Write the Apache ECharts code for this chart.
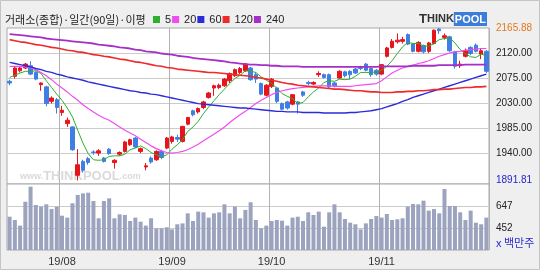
<!DOCTYPE html>
<html><head><meta charset="utf-8">
<script src="https://cdn.jsdelivr.net/npm/echarts@6/dist/echarts.min.js"></script>
<style>html,body{margin:0;padding:0;background:#efefef}#c{width:540px;height:270px}</style>
</head><body><div id="c"></div>
<script>
// trading days (2019)
const julDays = [18,19,22,23,24,25,26,29,30,31];
const augDays = [1,2,5,6,7,8,9,12,13,14,16,19,20,21,22,23,26,27,28,29,30];
const sepDays = [2,3,4,5,6,9,10,11,16,17,18,19,20,23,24,25,26,27,30];
const octDays = [1,2,4,7,8,10,11,14,15,16,17,18,21,22,23,24,25,28,29,30,31];
const novDays = [1,4,5,6,7,8,11,12,13,14,15,18,19,20,21,22,25,26,27,28,29];
const monthStarts = ['2019-08-01','2019-09-02','2019-10-01','2019-11-01'];
const monthLabels = ['19/08','19/09','19/10','19/11'];

const opens = [2070,2079,2089,2094,2098,2086,2064,2060,2034,2037,
 2014,1994,1988,1901,1926,1931,1943,1941,1932,1948,
 1924,1939,1944,1956,1968,1944,1916,1932,1929,1944,
 1950,1962,1969,1962,1993,2017,2015,2023,2041,2058,
 2059,2062,2071,2080,2086,2089,2094,2082,2066,2045,
 2061,2058,2030,2033,2029,2033,2051,2068,2065,2082,
 2082,2082,2067,2076,2087,2088,2092,2095,2101,2093,
 2090,2083,2115,2131,2141,2142,2154,2137,2124,2134,
 2124,2138,2164,2149,2150,2123,2098,2115,2131,2135,
 2119,2124];
const closes = [2067,2094,2094,2101,2083,2074,2067,2030,2040,2023,
 2018,2000,1947,1920,1910,1924,1942,1945,1926,1940,
 1928,1942,1961,1965,1952,1949,1918,1925,1944,1933,
 1968,1970,1966,1989,2005,2010,2021,2033,2049,2062,
 2063,2074,2084,2091,2093,2101,2073,2074,2047,2063,
 2074,2034,2020,2022,2046,2029,2045,2066,2068,2084,
 2077,2060,2062,2088,2080,2082,2085,2093,2090,2082,
 2083,2100,2130,2142,2144,2145,2137,2124,2140,2123,
 2139,2162,2161,2152,2125,2097,2101,2125,2120,2124,
 2125,2088];
const lows = [2063,2075,2086,2092,2081,2072,2053,2025,2030,2012,
 2008,1988,1945,1891.81,1906,1920,1938,1936,1924,1938,
 1913,1936,1942,1954,1950,1941,1910,1922,1927,1930,
 1948,1958,1961,1960,1991,2007,2012,2020,2039,2044,
 2056,2060,2067,2078,2083,2087,2071,2067,2045,2043,
 2058,2031,2018,2019,2027,2012,2042,2063,2063,2078,
 2075,2058,2059,2074,2077,2074,2083,2090,2088,2078,
 2080,2081,2113,2129,2138,2138,2135,2122,2122,2120,
 2121,2136,2155,2145,2123,2093,2094,2113,2117,2122,
 2110,2085];
const highs = [2073,2096,2097,2103,2106,2088,2068,2062,2043,2040,
 2026,2005,1989,1948,1929,1934,1946,1948,1934,1950,
 1930,1944,1963,1967,1970,1951,1923,1935,1946,1947,
 1970,1972,1974,1990,2006,2019,2023,2035,2051,2064,
 2066,2076,2086,2093,2096,2103,2096,2086,2068,2065,
 2076,2060,2032,2035,2047,2034,2053,2071,2070,2088,
 2084,2084,2069,2090,2089,2090,2094,2098,2103,2095,
 2092,2101,2132,2146,2156,2150,2156,2139,2142,2136,
 2141,2163,2165.88,2156,2152,2125,2107,2129,2133,2138,
 2130,2126];
const volumes = [552,523,473,685,818,656,641,662,620,641,
 561,544,671,745,759,765,691,538,691,715,
 538,573,567,514,544,508,473,538,449,449,
 458,440,485,493,582,514,597,591,544,582,
 591,662,582,641,538,612,680,523,449,473,
 514,523,517,473,544,552,514,591,567,597,
 464,591,662,591,532,499,485,440,493,532,
 558,544,576,523,529,538,641,665,662,694,
 606,620,582,798,647,647,591,523,606,499,
 485,544];
const ma5 = [2077,2081,2085,2088,2088,2089,2084,2071,2059,2047,
 2036,2022,2006,1982,1959,1940,1929,1928,1929,1935,
 1936,1936,1939,1947,1950,1954,1949,1942,1938,1934,
 1938,1948,1956,1965,1980,1988,1998,2012,2024,2035,
 2046,2056,2066,2075,2081,2089,2088,2086,2078,2072,
 2066,2058,2048,2043,2039,2030,2032,2042,2051,2058,
 2068,2071,2070,2074,2073,2074,2079,2086,2086,2086,
 2087,2090,2097,2107,2120,2132,2140,2138,2138,2134,
 2133,2138,2145,2147,2148,2139,2127,2120,2114,2113,
 2119,2116];
const ma20 = [2097,2097,2097,2096,2094,2091,2086,2080,2073,2065,
 2058,2051,2043,2036,2028,2021,2015,2009,2004,2000,
 1994,1988,1982,1977,1972,1966,1960,1954,1949,1945,
 1942,1941,1942,1944,1947,1952,1957,1963,1969,1975,
 1981,1988,1996,2003,2010,2016,2023,2030,2036,2041,
 2046,2050,2053,2055,2057,2058,2059,2060,2061,2062,
 2062,2062,2061,2061,2061,2061,2062,2063,2064,2065,
 2066,2071,2078,2085,2090,2094,2097,2099,2102,2104,
 2107,2111,2115,2118,2121,2123,2124,2126,2127,2128,
 2129,2129];
const ma60 = [2104,2102,2100,2098,2096,2093,2091,2088,2086,2083,
 2081,2078,2076,2074,2072,2069,2067,2065,2063,2061,
 2059,2057,2055,2053,2052,2050,2049,2047,2046,2044,
 2042,2040,2038,2036,2034,2032,2030,2029,2028,2027,
 2026,2025,2024,2023,2022,2022,2021,2020,2019,2018,
 2017,2016,2016,2015,2015,2015,2014,2014,2014,2014,
 2013,2013,2013,2013,2013,2014,2014,2015,2016,2017,
 2019,2021,2024,2027,2030,2034,2037,2041,2044,2047,
 2050,2053,2056,2059,2062,2065,2068,2071,2074,2077,
 2080,2083];
const ma120 = [2145,2143,2141,2140,2138,2136,2135,2133,2131,2130,
 2128,2126,2125,2123,2122,2120,2118,2117,2115,2114,
 2112,2110,2109,2107,2105,2104,2102,2100,2098,2097,
 2095,2094,2092,2091,2090,2089,2088,2087,2086,2086,
 2085,2084,2083,2082,2081,2080,2079,2077,2076,2074,
 2072,2070,2068,2066,2065,2063,2062,2061,2060,2059,
 2058,2057,2056,2056,2055,2054,2053,2053,2052,2051,
 2051,2050,2050,2050,2051,2051,2052,2052,2053,2053,
 2054,2055,2055,2056,2056,2057,2058,2059,2059,2060,
 2060,2061];
const ma240 = [2155,2154,2153,2152,2151,2150,2149,2147,2146,2145,
 2144,2143,2142,2141,2140,2139,2138,2136,2135,2134,
 2133,2131,2130,2129,2127,2126,2124,2123,2122,2120,
 2119,2118,2116,2115,2114,2112,2111,2110,2109,2108,
 2107,2106,2104,2103,2102,2101,2100,2100,2099,2099,
 2098,2098,2097,2097,2097,2097,2096,2096,2096,2096,
 2096,2096,2096,2096,2096,2096,2096,2096,2096,2096,
 2096,2097,2097,2097,2097,2097,2097,2098,2098,2098,
 2098,2098,2099,2099,2099,2099,2099,2100,2100,2100,
 2100,2100];
const priceLabels = [1891.81,1940,1985,2030,2075,2120,2165.88];
const priceGridValues = [1940,1985,2030,2075,2120];
const volLabels = [452,647];
const maNames = ['5','20','60','120','240'];
const maColors = ['#2fae2f','#f04cf0','#2b2bdc','#ee2a2a','#a52fc8'];

const pad = d => (d < 10 ? '0' : '') + d;
const dates = [].concat(
  julDays.map(d => '2019-07-' + pad(d)),
  augDays.map(d => '2019-08-' + pad(d)),
  sepDays.map(d => '2019-09-' + pad(d)),
  octDays.map(d => '2019-10-' + pad(d)),
  novDays.map(d => '2019-11-' + pad(d)));
const candles = dates.map((d, i) => [opens[i], closes[i], lows[i], highs[i]]);
const isMonthStart = (i, v) => monthStarts.indexOf(v) >= 0;
const maData = [ma5, ma20, ma60, ma120, ma240];
const maWidths = [1, 1.2, 1.4, 1.6, 1.8];

const chart = echarts.init(document.getElementById('c'), null, {renderer: 'canvas'});
const xBase = {
  type: 'category', data: dates, boundaryGap: true,
  axisLine: {show: false}, axisTick: {show: false},
  splitLine: {show: true, interval: isMonthStart, lineStyle: {color: '#b2b2b2', width: 1}}
};
const option = {
  animation: false,
  backgroundColor: '#efefef',
  title: {
    text: '거래소(종합)·일간(90일)·이평', left: 5, top: 14, padding: 0,
    textStyle: {fontSize: 11, fontWeight: 'normal', color: '#222', fontFamily: '"Noto Sans CJK KR", sans-serif'}
  },
  legend: {
    data: maNames, left: 153, top: 14, padding: 0, itemWidth: 7, itemHeight: 7, itemGap: 1, icon: 'rect',
    textStyle: {fontSize: 11, color: '#222', fontFamily: '"Liberation Sans", Arial, sans-serif'}
  },
  grid: [
    {left: 7, right: 51, top: 28, height: 156, show: true, backgroundColor: '#fff', borderColor: '#a8a8a8', borderWidth: 1},
    {left: 7, right: 51, top: 184, height: 66, show: true, backgroundColor: '#fff', borderColor: '#a8a8a8', borderWidth: 1}
  ],
  xAxis: [
    Object.assign({}, xBase, {gridIndex: 0, axisLabel: {show: false}}),
    Object.assign({}, xBase, {gridIndex: 1, axisLabel: {
      show: true, interval: isMonthStart, margin: 6,
      formatter: v => monthLabels[monthStarts.indexOf(v)] || '',
      fontSize: 11, color: '#333', fontFamily: '"Liberation Sans", Arial, sans-serif'}})
  ],
  yAxis: [
    {type: 'value', gridIndex: 0, position: 'right', min: 1885.4, max: 2165.88,
     axisLine: {show: false}, axisTick: {show: false, customValues: priceGridValues},
     axisLabel: {customValues: priceLabels, margin: 7, fontSize: 10, fontFamily: '"Liberation Sans", Arial, sans-serif',
       formatter: v => Number(v).toFixed(2),
       color: v => (v > 2160 ? '#e07a1e' : (v < 1900 ? '#2424cc' : '#222'))},
     splitLine: {show: true, lineStyle: {color: '#cbcbcb', width: 1}}},
    {type: 'value', gridIndex: 1, position: 'right', min: 257, max: 842,
     axisLine: {show: false}, axisTick: {show: false, customValues: volLabels},
     axisLabel: {customValues: volLabels, margin: 7, fontSize: 10, color: '#222', fontFamily: '"Liberation Sans", Arial, sans-serif'},
     splitLine: {show: true, lineStyle: {color: '#cbcbcb', width: 1}}}
  ],
  series: [
    {type: 'candlestick', name: 'KOSPI', xAxisIndex: 0, yAxisIndex: 0, data: candles, barWidth: 4, z: 3,
     itemStyle: {color: '#e8141c', color0: '#3f7fe4', borderColor: '#e8141c', borderColor0: '#3f7fe4', borderWidth: 1}},
    {type: 'bar', name: 'volume', xAxisIndex: 1, yAxisIndex: 1, data: volumes, barWidth: 4,
     itemStyle: {color: '#9ba3bf'}}
  ].concat(maNames.map((n, k) => ({
    type: 'line', name: n, xAxisIndex: 0, yAxisIndex: 0, data: maData[k], symbol: 'none', z: 4,
    itemStyle: {color: maColors[k]}, lineStyle: {color: maColors[k], width: maWidths[k]}
  }))),
  graphic: [
    {type: 'text', left: 419, top: 12, style: {
      rich: {T: {fontSize: 13, fontWeight: 'bold', fill: '#333', fontFamily: 'Arial, sans-serif'},
             h: {fontSize: 11, fontWeight: 'bold', fill: '#333', fontFamily: 'Arial, sans-serif'},
             p: {fontSize: 11, fontWeight: 'bold', fill: '#fff', backgroundColor: '#3b7dd8', padding: [2, 1, 1, 1], fontFamily: 'Arial, sans-serif'}},
      text: '{T|T}{h|HINK}{p|POOL}'}},
    {type: 'text', left: 20, top: 170, z: 1, style: {
      rich: {s: {fontSize: 9, fontWeight: 'bold', fill: '#dadada', fontFamily: 'Arial, sans-serif'},
             b: {fontSize: 13, fontWeight: 'bold', fill: '#dadada', fontFamily: 'Arial, sans-serif'}},
      text: '{s|www.}{b|THINKPOOL}{s|.com}'}},
    {type: 'text', left: 496, top: 237, style: {text: 'x 백만주', fontSize: 11, fill: '#2a2ad0', fontFamily: '"Noto Sans CJK KR", sans-serif'}},
    {type: 'rect', shape: {x: 0.5, y: 0.5, width: 539, height: 269}, style: {fill: 'none', stroke: '#c4c4c4', lineWidth: 1}, silent: true}
  ]
};
chart.setOption(option);
</script>
</body></html>
